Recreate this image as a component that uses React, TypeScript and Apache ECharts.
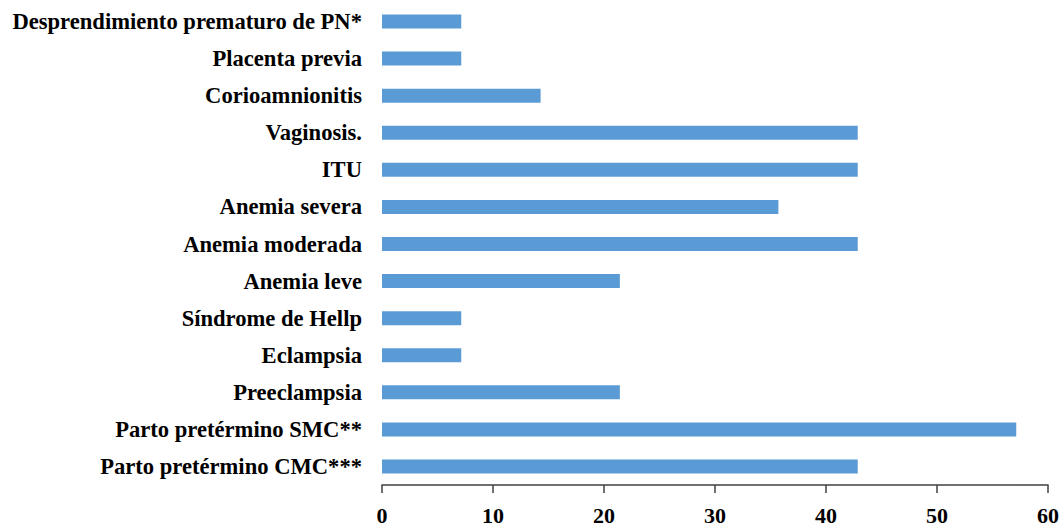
import React, { useEffect, useRef } from "react";
import * as echarts from "echarts";

const categories = [
  "Parto pretérmino CMC***",
  "Parto pretérmino SMC**",
  "Preeclampsia",
  "Eclampsia",
  "Síndrome de Hellp",
  "Anemia leve",
  "Anemia moderada",
  "Anemia severa",
  "ITU",
  "Vaginosis.",
  "Corioamnionitis",
  "Placenta previa",
  "Desprendimiento prematuro de PN*",
];

const values = [42.86, 57.14, 21.43, 7.14, 7.14, 21.43, 42.86, 35.71, 42.86, 42.86, 14.29, 7.14, 7.14];

const xMin = 0;
const xMax = 60;
const xStep = 10;

export default function App() {
  const ref = useRef<HTMLDivElement>(null);
  useEffect(() => {
    if (!ref.current) return;
    const chart = echarts.init(ref.current, undefined, { renderer: "svg" });
    chart.setOption({
      animation: false,
      backgroundColor: "#ffffff",
      grid: { left: 382, right: 14, top: 3, bottom: 45, containLabel: false },
      xAxis: {
        type: "value",
        min: xMin,
        max: xMax,
        interval: xStep,
        splitLine: { show: false },
        axisLine: { show: true, lineStyle: { color: "#404040", width: 1.5 } },
        axisTick: { show: true, length: 8, lineStyle: { color: "#404040", width: 1.5 } },
        axisLabel: {
          margin: 19,
          color: "#000",
          fontFamily: "Liberation Serif, Times New Roman, serif",
          fontWeight: "bold",
          fontSize: 22,
        },
      },
      yAxis: {
        type: "category",
        data: categories,
        axisLine: { show: false },
        axisTick: { show: false },
        splitLine: { show: false },
        axisLabel: {
          margin: 20,
          color: "#000",
          fontFamily: "Liberation Serif, Times New Roman, serif",
          fontWeight: "bold",
          fontSize: 22.6,
        },
      },
      series: [
        {
          type: "bar",
          data: values,
          barWidth: 14,
          itemStyle: { color: "#5B9BD5" },
        },
      ],
    });
    return () => chart.dispose();
  }, []);
  return (
    <div
      ref={ref}
      style={{ position: "absolute", left: 0, top: 0, width: 1062, height: 530 }}
    />
  );
}
